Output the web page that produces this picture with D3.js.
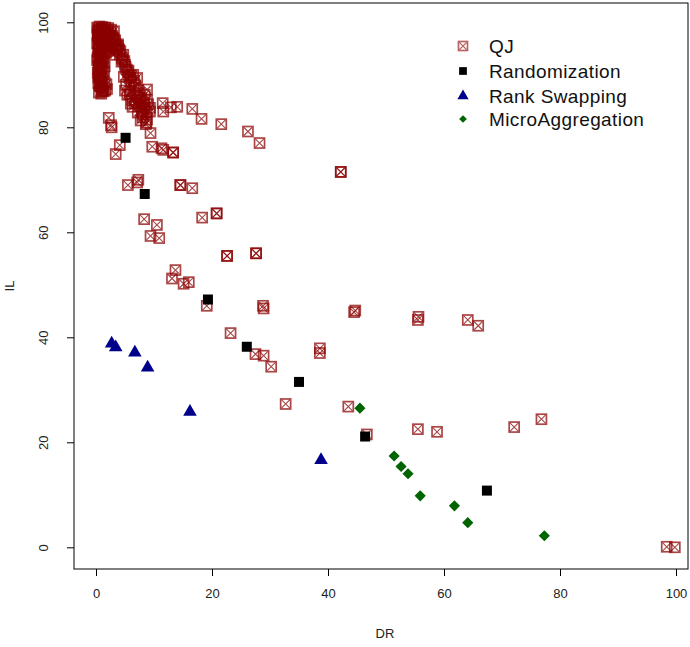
<!DOCTYPE html>
<html><head><meta charset="utf-8">
<script src="https://cdn.jsdelivr.net/npm/d3@7"></script>
<style>body{margin:0;background:#fff}</style>
</head><body>
<script>
// ---- Data (DR, IL) ----
const qjDR = [
 0.5,1.0,1.5,2.0,2.5,0.7,1.3,2.2,3.0,0.4,1.0,1.8,2.7,3.4,0.5,1.2,2.4,3.5,3.0,1.7,0.3,0.8,
 0.2,0.6,1.1,1.6,2.1,2.6,3.1,0.3,0.9,1.4,1.9,2.4,2.9,3.3,3.8,0.4,0.8,1.3,2.0,2.8,0.2,0.6,1.5,
 0.4,0.9,1.4,1.9,2.3,2.8,0.3,0.7,1.2,1.7,2.2,2.6,3.2,0.5,1.0,1.6,2.1,2.5,0.3,0.9,1.3,
 0.6,0.9,0.5,1.1,0.7,1.2,0.8,1.5,1.1,1.6,1.9,0.4,0.6,1.0,0.3,0.5,0.8,0.4,0.7,1.3,0.9,1.4,1.8,
 0.2,0.5,0.9,0.3,0.6,1.0,0.4,0.8,1.2,0.5,0.9,1.3,0.7,1.1,1.5,
 3.8,4.2,4.7,5.0,5.5,5.9,6.4,7.1,5.2,5.9,6.2,6.7,7.6,8.4,8.8,8.8,8.4,9.3,8.1,8.8,9.3,4.4,5.0,6.8,7.5,6.0,
 4.0,4.5,4.9,5.3,5.7,6.1,6.5,7.0,7.4,7.9,8.2,5.4,6.3,7.2,8.0,8.6,9.0,7.7,
 3.6,4.1,4.6,5.1,5.6,6.0,6.6,7.3,7.8,8.3,8.7,4.8,5.8,6.9,
 2.2,2.6,2.7,9.4,9.7,11.3,13.3,8.7,7.3,4.1,3.4,
 11.5,11.6,12.9,14.0,16.6,18.2,21.6,26.2,28.2,11.6,13.3,
 5.5,7.1,14.5,14.6,16.6,8.3,10.5,9.4,10.9,18.3,20.8,20.8,22.6,22.6,27.6,27.6,
 42.2,42.2,13.7,13.1,15.1,16.0,19.1,28.8,28.9,23.2,27.5,28.9,30.2,
 38.6,38.6,32.7,43.5,46.7,55.5,58.8,72.1,76.8,98.4,99.8,
 44.5,44.7,55.5,55.6,64.1,65.9
];
const qjIL = [
 98.5,98.8,98.6,98.4,98.0,97.5,97.8,97.2,97.0,96.5,96.2,96.5,96.0,95.8,95.0,95.3,95.0,94.8,93.8,94.2,97.8,93.5,
 99.0,99.2,99.1,99.0,98.9,98.6,98.3,98.2,98.1,97.9,97.6,97.4,96.9,96.6,95.5,97.0,96.8,96.9,96.0,95.4,96.0,94.9,94.4,
 98.7,98.4,98.2,97.7,97.3,97.4,97.4,97.1,96.7,96.3,96.0,95.6,96.3,95.6,95.8,95.5,94.6,95.4,94.3,94.7,94.1,
 94.0,93.0,92.0,91.5,90.5,89.5,89.0,88.5,87.5,87.0,87.3,91.0,88.0,86.8,93.2,90.0,92.6,89.5,87.9,92.3,88.6,90.6,88.2,
 92.8,91.8,91.2,90.4,89.8,89.2,88.4,87.8,87.0,86.6,86.4,86.9,93.6,92.4,91.6,
 95.8,94.5,93.8,91.9,90.5,89.4,90.0,89.4,88.1,86.8,85.2,84.6,85.2,86.2,87.2,85.2,83.7,83.7,82.4,81.5,83.0,92.5,87.0,88.0,86.5,84.5,
 94.8,93.2,92.6,91.0,89.8,88.6,87.6,86.0,84.0,83.0,84.8,86.2,83.9,82.8,81.9,80.6,84.4,81.3,
 95.2,93.9,92.9,91.5,90.8,89.9,88.9,87.1,85.6,84.1,82.9,89.6,86.3,85.0,
 81.8,80.4,80.0,78.9,76.3,76.0,75.2,80.9,70.0,76.6,74.9,
 84.6,83.0,83.8,83.9,83.5,81.6,80.6,79.2,77.0,75.7,75.2,
 69.0,69.5,69.0,69.0,68.4,62.5,61.4,59.3,58.9,62.8,63.6,63.6,55.5,55.5,56.0,56.0,
 71.5,71.5,52.8,51.2,50.2,50.5,46.0,46.0,45.5,40.8,36.8,36.5,34.4,
 37.9,37.0,27.3,26.8,21.5,22.5,22.0,22.9,24.4,0.1,0.0,
 44.8,45.1,43.3,43.9,43.3,42.2
];
const randDR = [5.1, 8.4, 19.3, 26.0, 35.0, 46.4, 67.4];
const randIL = [78.0, 67.3, 47.2, 38.2, 31.5, 21.1, 10.8];
const rankDR = [2.7, 3.4, 6.7, 8.9, 16.2, 38.8];
const rankIL = [39.0, 38.3, 37.3, 34.4, 26.0, 16.8];
const microDR = [45.5, 51.4, 52.6, 53.8, 55.9, 61.8, 64.1, 77.3];
const microIL = [26.5, 17.4, 15.4, 14.0, 9.8, 7.9, 4.7, 2.2];
const xTicks = [0, 20, 40, 60, 80, 100];
const yTicks = [0, 20, 40, 60, 80, 100];
const legendLabels = ["QJ", "Randomization", "Rank Swapping", "MicroAggregation"];

// ---- Layout ----
const W = 690, H = 647;
const box = {l: 74, r: 688, t: 3, b: 569};
const x = d3.scaleLinear().domain([0, 100]).range([96, 676]);
const y = d3.scaleLinear().domain([0, 100]).range([547.3, 22.3]);
const font = "'Liberation Sans', Arial, sans-serif";

const svg = d3.select("body").append("svg").attr("width", W).attr("height", H)
  .style("font-family", font);

svg.append("rect").attr("x", box.l).attr("y", box.t)
  .attr("width", box.r - box.l).attr("height", box.b - box.t)
  .attr("fill", "none").attr("stroke", "#000").attr("stroke-width", 1);

// axes
const xAxis = svg.append("g").attr("transform", `translate(0,${box.b})`)
  .call(d3.axisBottom(x).tickValues(xTicks).tickSize(7).tickPadding(13).tickFormat(d3.format("d")));
xAxis.select(".domain").remove();
xAxis.selectAll("text").attr("font-size", 13).attr("font-family", font).attr("fill", "#222");

const yAxis = svg.append("g").attr("transform", `translate(${box.l},0)`)
  .call(d3.axisLeft(y).tickValues(yTicks).tickSize(7).tickFormat(d3.format("d")));
yAxis.select(".domain").remove();
yAxis.selectAll("text").attr("font-size", 13).attr("font-family", font).attr("fill", "#222")
  .attr("text-anchor", "middle").attr("dy", null).attr("x", null)
  .attr("transform", "translate(-26,0) rotate(-90)");

svg.append("text").attr("x", 385).attr("y", 638).attr("text-anchor", "middle")
  .attr("font-size", 13).attr("fill", "#222").text("DR");
svg.append("text").attr("transform", "translate(14,286) rotate(-90)").attr("text-anchor", "middle")
  .attr("font-size", 13).attr("fill", "#222").text("IL");

const red = "#8B0000";
function qjMarker(g, cx, cy, s, op) {
  const h = s / 2;
  const m = g.append("g").attr("transform", `translate(${cx},${cy})`).attr("opacity", op);
  m.append("rect").attr("x", -h).attr("y", -h).attr("width", s).attr("height", s)
    .attr("fill", "none").attr("stroke", red).attr("stroke-width", 1.7);
  m.append("path").attr("d", `M${-h},${-h}L${h},${h}M${-h},${h}L${h},${-h}`)
    .attr("stroke", red).attr("stroke-width", 1.1);
}

const gPts = svg.append("g");
qjDR.forEach((d, i) => qjMarker(gPts, x(d), y(qjIL[i]), 10, 0.72));

const sq = d3.symbol().type(d3.symbolSquare).size(100);
gPts.selectAll(".rand").data(randDR).join("path")
  .attr("d", sq).attr("transform", (d, i) => `translate(${x(d)},${y(randIL[i])})`).attr("fill", "#000");
const tri = d3.symbol().type(d3.symbolTriangle).size(80);
gPts.selectAll(".rank").data(rankDR).join("path")
  .attr("d", tri).attr("transform", (d, i) => `translate(${x(d)},${y(rankIL[i]) + 1})`).attr("fill", "#00008B");
const dia = d3.symbol().type(d3.symbolSquare).size(62);
gPts.selectAll(".micro").data(microDR).join("path")
  .attr("d", dia).attr("transform", (d, i) => `translate(${x(d)},${y(microIL[i])}) rotate(45)`).attr("fill", "#006400");

// legend
const lg = svg.append("g");
const ly = [46, 71, 96, 119];
legendLabels.forEach((t, i) => {
  lg.append("text").attr("x", 489).attr("y", ly[i] + 6.5).attr("font-size", 19)
    .attr("letter-spacing", 0.4).attr("fill", "#111").text(t);
});
qjMarker(lg, 463, ly[0], 9, 0.6);
lg.append("path").attr("d", d3.symbol().type(d3.symbolSquare).size(60)).attr("transform", `translate(463,${ly[1]})`).attr("fill", "#000");
lg.append("path").attr("d", d3.symbol().type(d3.symbolTriangle).size(55)).attr("transform", `translate(463,${ly[2]})`).attr("fill", "#00008B");
lg.append("path").attr("d", d3.symbol().type(d3.symbolSquare).size(30)).attr("transform", `translate(463,${ly[3]}) rotate(45)`).attr("fill", "#006400");
</script>
</body></html>
